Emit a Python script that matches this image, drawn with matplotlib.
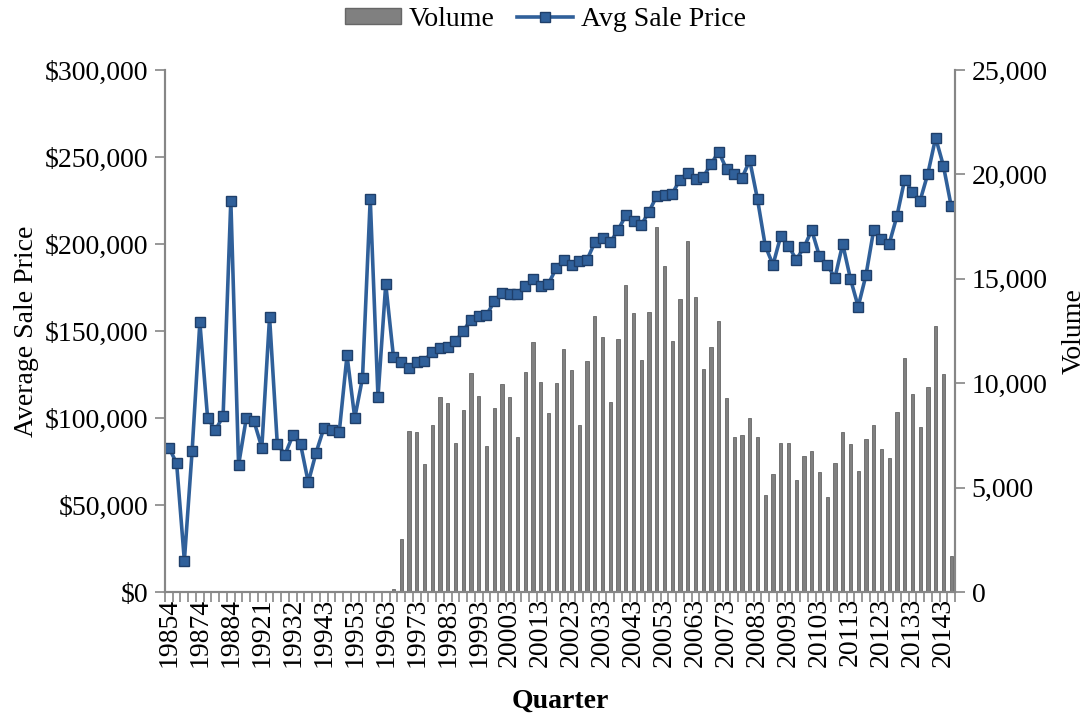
import matplotlib
matplotlib.use('Agg')
import matplotlib.pyplot as plt
from matplotlib.ticker import FixedLocator, FuncFormatter
from matplotlib.lines import Line2D
from matplotlib.patches import Patch
import numpy as np

plt.rcParams['font.family'] = ['Liberation Serif', 'DejaVu Serif']

# ---------------------------------------------------------------------------
# Data
# ---------------------------------------------------------------------------
# early quarters are irregular (gaps in the record), regular from 1996 Q3 on
early_quarters = ['19854', '19861', '19863', '19871', '19874', '19881', '19882',
                  '19883', '19884', '19891', '19902', '19913', '19921', '19922',
                  '19923', '19931', '19932', '19933', '19934', '19941', '19943',
                  '19944', '19951', '19952', '19953', '19954', '19961', '19962']
later_quarters = [f"{y}{q}" for y in range(1996, 2015) for q in range(1, 5)
                  if (y, q) >= (1996, 3)]
quarters = early_quarters + later_quarters

avg_price_k = [83, 74, 18, 81, 155, 100, 93, 101, 225, 73,
               100, 98, 83, 158, 85, 79, 90, 85, 63, 80,
               94, 93, 92, 136, 100, 123, 226, 112, 177, 135,
               132, 129, 132, 133, 138, 140, 141, 144, 150, 156.5,
               158.5, 159, 167, 172, 171, 171.5, 176, 179.6, 176, 177,
               186, 191, 188, 190.5, 191, 201, 203.5, 201, 208, 216.5,
               213.5, 211, 218.6, 227.7, 228, 229, 237, 241, 237.5, 238.5,
               246, 253, 243, 240, 238, 248, 225.7, 199, 188, 204.5,
               199, 191, 198, 208, 193, 188, 180.6, 200, 180, 164,
               182, 208, 203, 200, 216, 237, 230, 225, 240.5, 261,
               245, 222]
avg_price = [v * 1000 for v in avg_price_k]

volume = [0] * 28 + [
    50, 165, 2540, 7700, 7650, 6130, 7980, 9340, 9030, 7120,
    8720, 10500, 9410, 6990, 8800, 9940, 9340, 7400, 10550, 11980,
    10040, 8550, 9990, 11650, 10610, 7980, 11040, 13200, 12200, 9080,
    12100, 14680, 13350, 11090, 13400, 17490, 15590, 12000, 14010, 16790,
    14120, 10680, 11720, 12970, 9280, 7420, 7500, 8320, 7400, 4630,
    5640, 7120, 7120, 5370, 6530, 6740, 5750, 4550, 6160, 7660,
    7070, 5780, 7320, 7990, 6840, 6440, 8600, 11190, 9490, 7890,
    9800, 12720, 10430, 1710]

# ---------------------------------------------------------------------------
# Figure
# ---------------------------------------------------------------------------
FS = 20
SPINE = '#868686'
LINE_C = '#30609a'

fig = plt.figure(figsize=(10.91, 7.19), dpi=100)
ax = fig.add_axes([165 / 1091, 1 - 592 / 719, 790 / 1091, 522 / 719])
ax2 = ax.twinx()
ax.set_zorder(ax2.get_zorder() + 1)
ax.patch.set_visible(False)

x = np.arange(len(quarters))
ax2.bar(x, volume, width=0.42, color='#808080', edgecolor='#666666', linewidth=0.6)
ax.plot(x, avg_price, color=LINE_C, linewidth=2.6, marker='s', markersize=7.5,
        markerfacecolor=LINE_C, markeredgecolor='#1f3f6a', markeredgewidth=1.0)

ax.set_xlim(-0.5, len(quarters) - 0.5)
ax.set_ylim(0, 300000)
ax2.set_ylim(0, 25000)
ax.set_yticks(np.arange(0, 300001, 50000))
ax2.set_yticks(np.arange(0, 25001, 5000))
ax.yaxis.set_major_formatter(FuncFormatter(lambda v, p: f"${v:,.0f}"))
ax2.yaxis.set_major_formatter(FuncFormatter(lambda v, p: f"{v:,.0f}"))

# category labels every 4th quarter, tick marks between categories
lab_idx = list(range(0, len(quarters), 4))
ax.xaxis.set_major_locator(FixedLocator(lab_idx))
ax.set_xticklabels([quarters[i] for i in lab_idx], rotation=90, fontsize=FS)
ax.xaxis.set_minor_locator(FixedLocator(np.arange(-0.5, len(quarters), 1)))
ax.tick_params(axis='x', which='major', length=0, pad=4)
ax.tick_params(axis='x', which='minor', length=7, color=SPINE, width=1.2)
ax2.tick_params(axis='x', which='both', length=0)

ax.tick_params(axis='y', which='major', direction='out', length=7, width=1.2,
               color=SPINE, labelsize=FS, pad=5)
ax2.tick_params(axis='y', which='major', direction='out', length=7, width=1.2,
                color=SPINE, labelsize=FS, pad=5)

for a in (ax, ax2):
    a.spines['top'].set_visible(False)
    for s in ('left', 'right', 'bottom'):
        a.spines[s].set_color(SPINE)
        a.spines[s].set_linewidth(1.5)

ax.set_ylabel('Average Sale Price', fontsize=FS, labelpad=4)
ax2.set_ylabel('Volume', fontsize=FS, labelpad=10)
ax.set_xlabel('Quarter', fontsize=FS, fontweight='bold', labelpad=16)

handles = [Patch(facecolor='#808080', edgecolor='#666666'),
           Line2D([], [], color=LINE_C, linewidth=2.6, marker='s', markersize=7.5,
                  markerfacecolor=LINE_C, markeredgecolor='#1f3f6a')]
fig.legend(handles, ['Volume', 'Avg Sale Price'], loc='upper center',
           bbox_to_anchor=(0.5, 1.025), ncol=2, frameon=False, fontsize=FS,
           handlelength=2.0, handleheight=0.5, columnspacing=0.8, handletextpad=0.3)

fig.savefig('out.png', dpi=100)
